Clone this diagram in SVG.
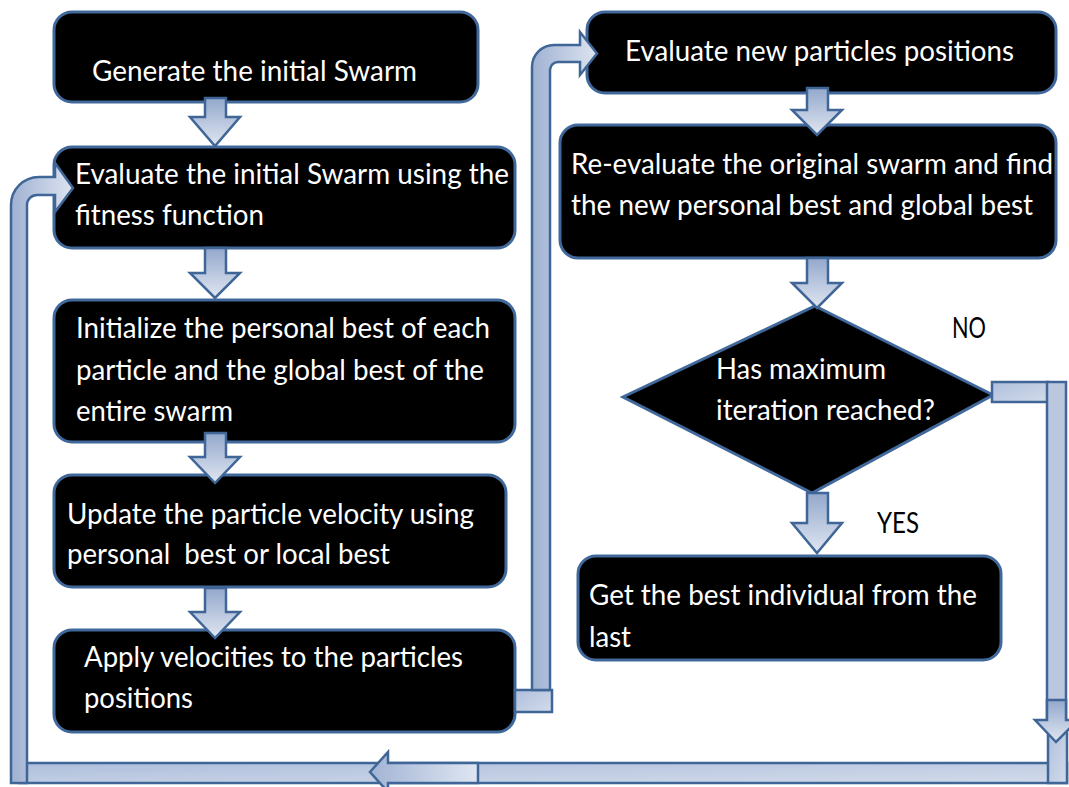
<svg xmlns="http://www.w3.org/2000/svg" width="1069" height="787" viewBox="0 0 1069 787">
<defs>
<linearGradient id="gv" x1="0" y1="0" x2="0" y2="1">
<stop offset="0" stop-color="#93a8cc"/>
<stop offset="1" stop-color="#e0e6f1"/>
</linearGradient>
<linearGradient id="gh" x1="0" y1="0" x2="1" y2="0">
<stop offset="0" stop-color="#9fb1d2"/>
<stop offset="1" stop-color="#dde4f0"/>
</linearGradient>
<linearGradient id="ghr" x1="1" y1="0" x2="0" y2="0">
<stop offset="0" stop-color="#dfe6f2"/>
<stop offset="1" stop-color="#a2b4d4"/>
</linearGradient>
<linearGradient id="gb" x1="0" y1="0" x2="1" y2="1">
<stop offset="0" stop-color="#aebfdc"/>
<stop offset="1" stop-color="#d3dbea"/>
</linearGradient>
</defs>
<style>
.box{fill:#000;stroke:#41689b;stroke-width:3}
.t{fill:#fff;font-family:Lato,"Liberation Sans",sans-serif;font-size:28px}
.lbl{fill:#000;font-family:Lato,"Liberation Sans",sans-serif;font-size:28px}
.arr{fill:url(#gv);stroke:#3f6696;stroke-width:2.5;stroke-linejoin:miter}
.bar{fill:url(#gb);stroke:#3f6696;stroke-width:2.5}
.curve{fill:url(#gh);stroke:#3f6696;stroke-width:2.5}
</style>
<rect width="1069" height="787" fill="#fff"/>

<g id="n1"><rect class="box" x="54" y="12" width="424" height="90" rx="18"/>
<text class="t" x="92" y="81" textLength="325" lengthAdjust="spacingAndGlyphs">Generate the initial Swarm</text></g>

<g id="n2"><rect class="box" x="54" y="147" width="461" height="101" rx="18"/>
<text class="t" x="75" y="184" textLength="434" lengthAdjust="spacingAndGlyphs">Evaluate the initial Swarm using the</text>
<text class="t" x="75" y="225" textLength="189" lengthAdjust="spacingAndGlyphs">fitness function</text></g>

<g id="n3"><rect class="box" x="54" y="300" width="461" height="142" rx="18"/>
<text class="t" x="76" y="338" textLength="414" lengthAdjust="spacingAndGlyphs">Initialize the personal best of each</text>
<text class="t" x="76" y="380" textLength="408" lengthAdjust="spacingAndGlyphs">particle and the global best of the</text>
<text class="t" x="76" y="421" textLength="157" lengthAdjust="spacingAndGlyphs">entire swarm</text></g>

<g id="n4"><rect class="box" x="54" y="475" width="452" height="112" rx="18"/>
<text class="t" x="67" y="524" textLength="407" lengthAdjust="spacingAndGlyphs">Update the particle velocity using</text>
<text class="t" x="67" y="564" textLength="323" lengthAdjust="spacingAndGlyphs" xml:space="preserve">personal  best or local best</text></g>

<g id="n5"><rect class="box" x="54" y="630" width="461" height="102" rx="18"/>
<text class="t" x="84" y="667" textLength="379" lengthAdjust="spacingAndGlyphs">Apply velocities to the particles</text>
<text class="t" x="84" y="708" textLength="109" lengthAdjust="spacingAndGlyphs">positions</text></g>

<g id="n6"><rect class="box" x="587" y="12" width="469" height="81" rx="18"/>
<text class="t" x="625" y="61" textLength="389" lengthAdjust="spacingAndGlyphs">Evaluate new particles positions</text></g>

<g id="n7"><rect class="box" x="560" y="125" width="496" height="133" rx="18"/>
<text class="t" x="571" y="174" textLength="482" lengthAdjust="spacingAndGlyphs">Re-evaluate the original swarm and find</text>
<text class="t" x="571" y="215" textLength="462" lengthAdjust="spacingAndGlyphs">the new personal best and global best</text></g>

<g id="n8"><polygon class="box" points="815,306 993,395 812,493 623,397"/>
<text class="t" x="716" y="379" textLength="170" lengthAdjust="spacingAndGlyphs">Has maximum</text>
<text class="t" x="716" y="420" textLength="219" lengthAdjust="spacingAndGlyphs">iteration reached?</text></g>

<g id="n9"><rect class="box" x="578" y="556" width="423" height="104" rx="18"/>
<text class="t" x="589" y="605" textLength="388" lengthAdjust="spacingAndGlyphs">Get the best individual from the</text>
<text class="t" x="589" y="647" textLength="42" lengthAdjust="spacingAndGlyphs">last</text></g>

<g id="connectors">
<polygon class="arr" points="205,98 226,98 226,117 240,117 215,146 190,117 205,117"/>
<polygon class="arr" points="205,248 226,248 226,273 240,273 215,298 190,273 205,273"/>
<polygon class="arr" points="205,433 226,433 226,457 240,457 215,483 190,457 205,457"/>
<polygon class="arr" points="205,588 226,588 226,612 240,612 215,638 190,612 205,612"/>
<polygon class="arr" points="807,88 828,88 828,110 842,110 817,135 792,110 807,110"/>
<polygon class="arr" points="807,258 828,258 828,283 842,283 817,308 792,283 807,283"/>
<polygon class="arr" points="807,493 828,493 828,523 842,523 817,553 792,523 807,523"/>

<rect class="bar" x="19" y="763" width="1048" height="20"/>
<rect class="bar" x="1048" y="730" width="19" height="53"/>
<path class="curve" d="M11,783 L11,205 A28,28 0 0 1 39,177 L55,177 L55,163 L73,188 L55,212 L55,195 L37,195 A10,10 0 0 0 27,205 L27,783 Z"/>
<polygon points="370,772 388,752 388,763 478,763 478,783 388,783 388,792" fill="url(#ghr)" stroke="#3f6696" stroke-width="2.5"/>

<rect class="bar" x="515" y="690" width="37" height="22"/>
<path class="curve" d="M532,690 L532,67 A22,22 0 0 1 554,45 L580,45 L580,32 L597,53.5 L580,75 L580,62 L558,62 A8,8 0 0 0 550,70 L550,690 Z"/>

<rect class="bar" x="992" y="382" width="56" height="20"/>
<rect x="1047" y="382" width="19" height="338" fill="#bac7df" stroke="#3f6696" stroke-width="2.5"/>
<polygon points="1047,700 1066,700 1066,720 1078,720 1056,742 1035,720 1047,720" fill="url(#gv)" stroke="#3f6696" stroke-width="2.5"/>
</g>

<g id="labels">
<text class="lbl" x="952" y="338" textLength="34" lengthAdjust="spacingAndGlyphs">NO</text>
<text class="lbl" x="877" y="533" textLength="42" lengthAdjust="spacingAndGlyphs">YES</text>
</g>
</svg>
